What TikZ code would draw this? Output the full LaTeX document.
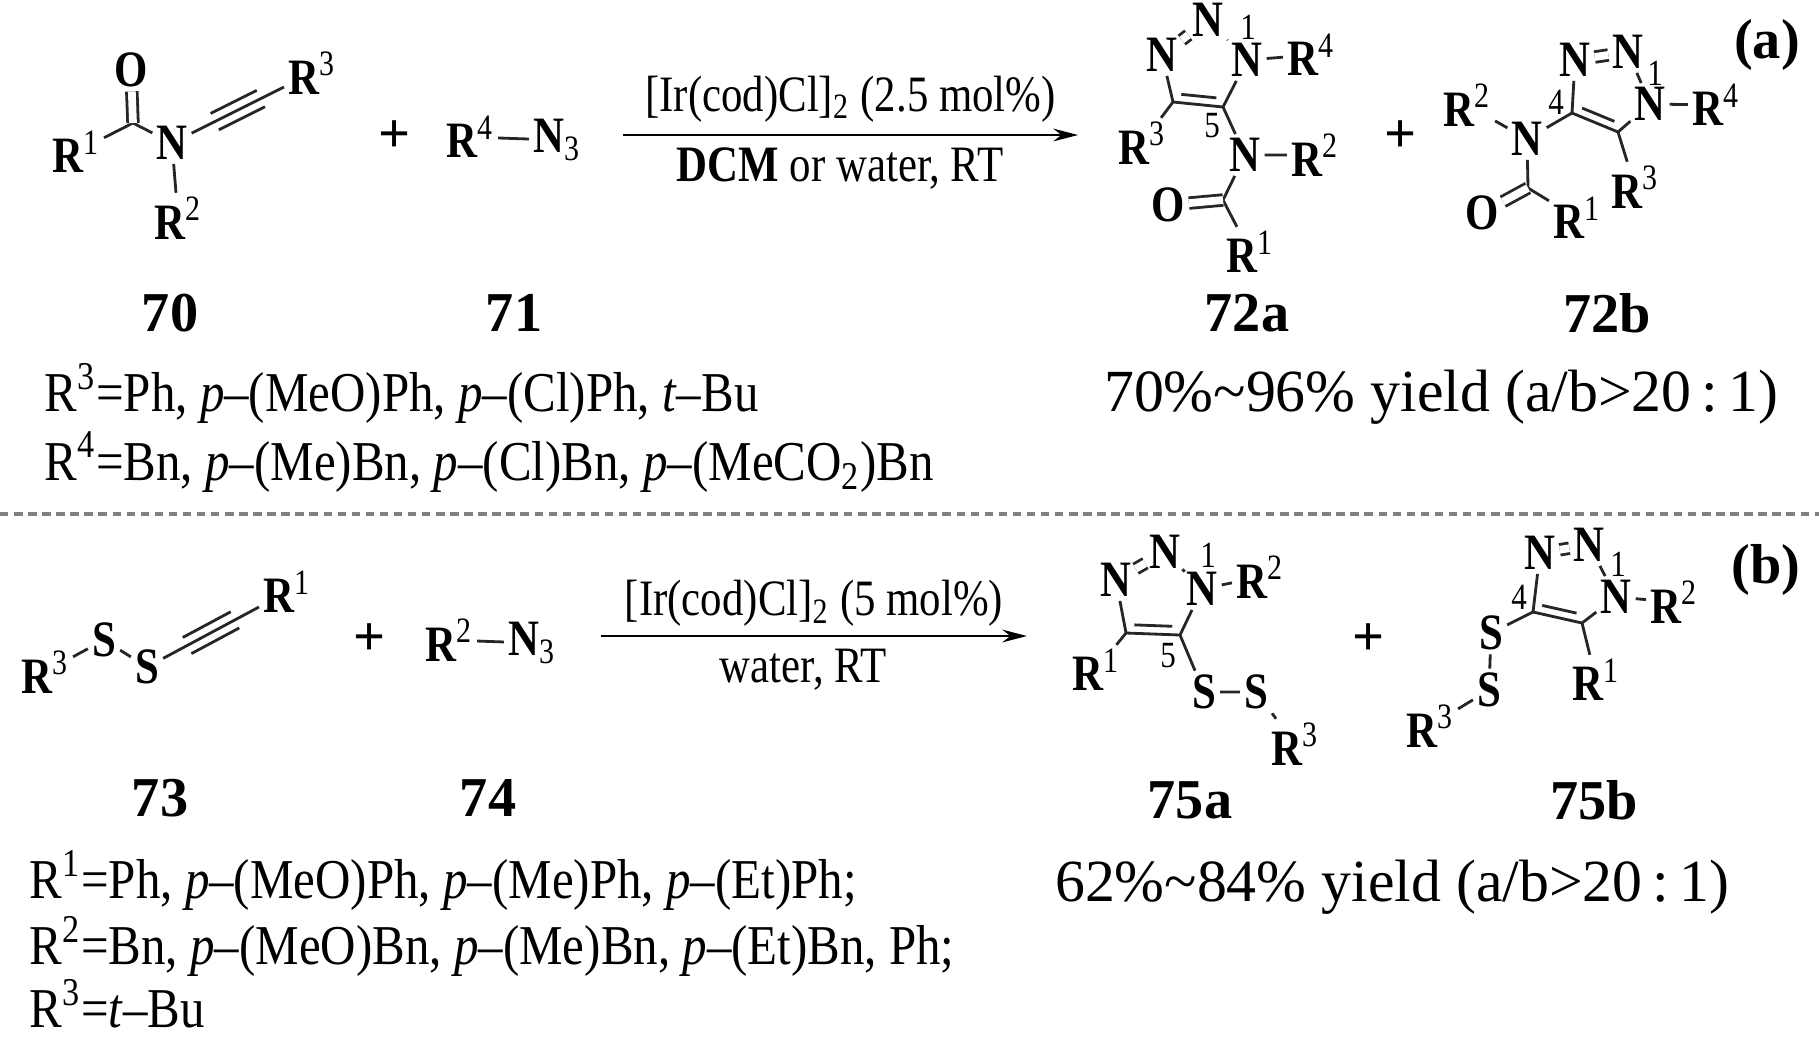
\documentclass[tikz,border=0pt]{standalone}
\usepackage{fontspec}
\setmainfont{Liberation Serif}
\newfontfamily\narrow[FakeStretch=0.84]{Liberation Serif}
\newfontfamily\rfont[FakeStretch=0.87]{Liberation Serif}
\usetikzlibrary{arrows.meta,calc}

\newcommand{\Rg}[1]{R\textsuperscript{\mdseries #1}}
\newcommand{\Nthree}{N\textsubscript{\mdseries 3}}

\tikzset{
  bond/.style={line width=0.8pt, black!85},
  dbl/.style={bond, double, double distance=2.2pt},
  atom/.style={font=\narrow\bfseries\fontsize{14.5}{16}\selectfont, inner sep=1pt},
  locant/.style={font=\narrow\fontsize{10.5}{12}\selectfont, inner sep=0pt},
  cmpd/.style={font=\bfseries\fontsize{16}{18}\selectfont},
  plus/.style={font=\bfseries\fontsize{16}{18}\selectfont},
  reag/.style={font=\narrow\fontsize{14.5}{16}\selectfont},
  rline/.style={font=\rfont\fontsize{16}{18}\selectfont, anchor=west, inner sep=0pt},
  yieldtxt/.style={font=\fontsize{17}{20}\selectfont},
  rxn/.style={line width=0.8pt, -{Stealth[length=7pt,width=3.6pt]}},
  sep/.style={gray, line width=0.9pt, dash pattern=on 2.4pt off 1.6pt}
}

% triple bond between two atoms
\newcommand{\triplebond}[2]{%
  \draw[bond] (#1) -- (#2);
  \path (#1) -- (#2) coordinate[pos=0.25] (tba) coordinate[pos=0.75] (tbb);
  \draw[bond] ($(tba)!2.6pt!90:(tbb)$) -- ($(tbb)!2.6pt!-90:(tba)$);
  \draw[bond] ($(tba)!2.6pt!-90:(tbb)$) -- ($(tbb)!2.6pt!90:(tba)$);
}
% inner line of a ring double bond
\newcommand{\innerbond}[2]{%
  \path (#1) -- (#2) coordinate[pos=0.15] (iba) coordinate[pos=0.85] (ibb);
  \coordinate (ibo) at ($(iba)!2.4pt!90:(ibb)$);
  \draw[bond] (ibo) -- ($(ibb)+(ibo)-(iba)$);
}

\begin{document}
\begin{tikzpicture}[x=0.01cm,y=-0.01cm]
\path[use as bounding box, fill=white] (0,0) rectangle (1819,1039);

%%% (a)
% 70
\node[atom] (o70) at (131,70) {O};
\coordinate (c70) at (133,123);
\node[atom] (r1a) at (76,152) {\Rg{1}};
\node[atom] (n70) at (172,143) {N};
\node[atom] (r2a) at (178,218) {\Rg{2}};
\node[atom] (r3a) at (312,73) {\Rg{3}};
\draw[bond] (r1a) -- (c70) -- (n70) -- (r2a);
\draw[dbl] (c70) -- (o70);
\triplebond{n70}{r3a}
\node[cmpd] (l70) at (170,313) {70};

\node[plus] (p1) at (395,137) {+};

% 71
\node[atom] (r4b) at (470,137) {\Rg{4}};
\node[atom] (n71) at (557,140) {\Nthree};
\draw[bond] (r4b) -- (n71);
\node[cmpd] (l71) at (514,313) {71};

% arrow
\coordinate (a1s) at (623,135);
\coordinate (a1e) at (1078,135);
\draw[rxn] (a1s) -- (a1e)
  node[reag, midway, above=0pt] (t1) {[Ir(cod)Cl]\textsubscript{2} (2.5 mol\%)}
  node[reag, midway, below=0pt, xshift=-3pt] (t2) {\textbf{DCM} or water, RT};

% 72a
\node[atom] (n3x) at (1162,55) {N};
\node[atom] (n2x) at (1208,20) {N};
\node[atom] (n1x) at (1247,60) {N};
\node[locant] (k1x) at (1248,27) {1};
\node[atom] (r4x) at (1311,55) {\Rg{4}};
\coordinate (c4x) at (1173,102);
\coordinate (c5x) at (1223,107);
\node[locant] (k5x) at (1212,126) {5};
\node[atom] (r3x) at (1142,143) {\Rg{3}};
\node[atom] (nax) at (1245,155) {N};
\node[atom] (r2x) at (1315,155) {\Rg{2}};
\coordinate (ccx) at (1223,200);
\node[atom] (ox) at (1168,205) {O};
\node[atom] (r1x) at (1250,252) {\Rg{1}};
\draw[bond] (n3x) -- (c4x) -- (c5x) -- (n1x) -- (n2x);
\draw[dbl] (n3x) -- (n2x);
\innerbond{c4x}{c5x}
\draw[bond] (n1x) -- (r4x);
\draw[bond] (c4x) -- (r3x);
\draw[bond] (c5x) -- (nax) -- (r2x);
\draw[bond] (nax) -- (ccx) -- (r1x);
\draw[dbl] (ccx) -- (ox);
\node[cmpd] (l72a) at (1247,313) {72a};

\node[plus] (p2) at (1401,137) {+};

% 72b
\node[atom] (n3y) at (1575,60) {N};
\node[atom] (n2y) at (1628,52) {N};
\node[locant] (k1y) at (1655,73) {1};
\node[atom] (n1y) at (1650,104) {N};
\node[atom] (r4y) at (1716,105) {\Rg{4}};
\coordinate (c4y) at (1572,113);
\node[locant] (k4y) at (1556,102) {4};
\coordinate (c5y) at (1618,132);
\node[atom] (r3y) at (1635,187) {\Rg{3}};
\node[atom] (nay) at (1527,139) {N};
\node[atom] (r2y) at (1467,105) {\Rg{2}};
\coordinate (ccy) at (1528,188);
\node[atom] (oy) at (1482,213) {O};
\node[atom] (r1y) at (1577,218) {\Rg{1}};
\draw[bond] (n3y) -- (c4y) -- (c5y) -- (n1y) -- (n2y);
\draw[dbl] (n3y) -- (n2y);
\innerbond{c4y}{c5y}
\draw[bond] (n1y) -- (r4y);
\draw[bond] (c5y) -- (r3y);
\draw[bond] (r2y) -- (nay) -- (c4y);
\draw[bond] (nay) -- (ccy) -- (r1y);
\draw[dbl] (ccy) -- (oy);
\node[cmpd] (l72b) at (1607,313) {72b};
\node[cmpd] (tagA) at (1767,45) {(a)};

% substituents and yield
\node[rline] (sa1) at (44,393) {R\textsuperscript{3}=Ph, \textit{p}–(MeO)Ph, \textit{p}–(Cl)Ph, \textit{t}–Bu};
\node[rline] (sa2) at (44,462) {R\textsuperscript{4}=Bn, \textit{p}–(Me)Bn, \textit{p}–(Cl)Bn, \textit{p}–(MeCO\textsubscript{2})Bn};
\node[yieldtxt] (ya) at (1441,397) {70\%\textasciitilde96\% yield (a/b>20\,:\,1)};

% separator
\coordinate (sepL) at (0,514);
\coordinate (sepR) at (1819,514);
\draw[sep] (sepL) -- (sepR);

%%% (b)
% 73
\node[atom] (r3m) at (45,672) {\Rg{3}};
\node[atom] (s1m) at (104,640) {S};
\node[atom] (s2m) at (147,667) {S};
\node[atom] (r1m) at (287,592) {\Rg{1}};
\draw[bond] (r3m) -- (s1m) -- (s2m);
\triplebond{s2m}{r1m}
\node[cmpd] (l73) at (160,798) {73};

\node[plus] (p3) at (370,640) {+};

% 74
\node[atom] (r2n) at (449,640) {\Rg{2}};
\node[atom] (n74) at (532,643) {\Nthree};
\draw[bond] (r2n) -- (n74);
\node[cmpd] (l74) at (488,798) {74};

% arrow
\coordinate (a2s) at (601,636);
\coordinate (a2e) at (1027,636);
\draw[rxn] (a2s) -- (a2e)
  node[reag, midway, above=-1pt] (t3) {[Ir(cod)Cl]\textsubscript{2} (5 mol\%)}
  node[reag, midway, below=0pt, xshift=-3pt] (t4) {water, RT};

% 75a
\node[atom] (n3u) at (1116,580) {N};
\node[atom] (n2u) at (1165,552) {N};
\node[locant] (k1u) at (1208,555) {1};
\node[atom] (n1u) at (1202,589) {N};
\node[atom] (r2u) at (1260,577) {\Rg{2}};
\coordinate (c4u) at (1126,633);
\coordinate (c5u) at (1180,635);
\node[locant] (k5u) at (1168,656) {5};
\node[atom] (r1u) at (1096,670) {\Rg{1}};
\node[atom] (sau) at (1204,692) {S};
\node[atom] (sbu) at (1256,692) {S};
\node[atom] (r3u) at (1295,744) {\Rg{3}};
\draw[bond] (n3u) -- (c4u) -- (c5u) -- (n1u) -- (n2u);
\draw[dbl] (n3u) -- (n2u);
\innerbond{c4u}{c5u}
\draw[bond] (n1u) -- (r2u);
\draw[bond] (c4u) -- (r1u);
\draw[bond] (c5u) -- (sau) -- (sbu) -- (r3u);
\node[cmpd] (l75a) at (1190,800) {75a};

\node[plus] (p4) at (1369,640) {+};

% 75b
\node[atom] (n3v) at (1540,553) {N};
\node[atom] (n2v) at (1589,545) {N};
\node[locant] (k1v) at (1618,564) {1};
\node[atom] (n1v) at (1616,597) {N};
\node[atom] (r2v) at (1674,602) {\Rg{2}};
\coordinate (c4v) at (1533,612);
\node[locant] (k4v) at (1519,597) {4};
\coordinate (c5v) at (1582,623);
\node[atom] (r1v) at (1596,680) {\Rg{1}};
\node[atom] (stv) at (1491,633) {S};
\node[atom] (sbv) at (1489,690) {S};
\node[atom] (r3v) at (1430,726) {\Rg{3}};
\draw[bond] (n3v) -- (c4v) -- (c5v) -- (n1v) -- (n2v);
\draw[dbl] (n3v) -- (n2v);
\innerbond{c4v}{c5v}
\draw[bond] (n1v) -- (r2v);
\draw[bond] (c5v) -- (r1v);
\draw[bond] (c4v) -- (stv) -- (sbv) -- (r3v);
\node[cmpd] (l75b) at (1594,800) {75b};
\node[cmpd] (tagB) at (1766,570) {(b)};

% substituents and yield
\node[rline] (sb1) at (29,880) {R\textsuperscript{1}=Ph, \textit{p}–(MeO)Ph, \textit{p}–(Me)Ph, \textit{p}–(Et)Ph;};
\node[rline] (sb2) at (29,946) {R\textsuperscript{2}=Bn, \textit{p}–(MeO)Bn, \textit{p}–(Me)Bn, \textit{p}–(Et)Bn, Ph;};
\node[rline] (sb3) at (29,1004) {R\textsuperscript{3}=\textit{t}–Bu};
\node[yieldtxt] (yb) at (1392,887) {62\%\textasciitilde84\% yield (a/b>20\,:\,1)};
\end{tikzpicture}
\end{document}
